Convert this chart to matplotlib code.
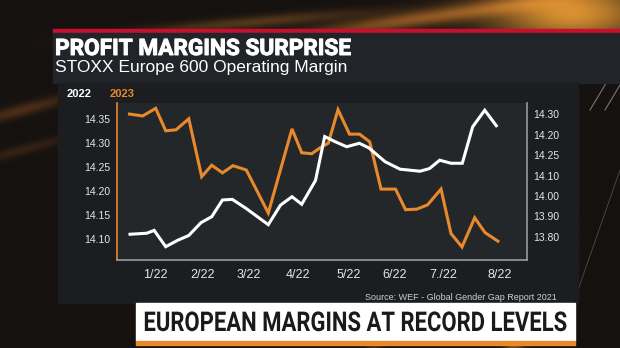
import numpy as np
import matplotlib
matplotlib.use("Agg")
import matplotlib.pyplot as plt
from matplotlib.patches import Rectangle
from matplotlib.patheffects import AbstractPathEffect, withStroke
from matplotlib.transforms import Affine2D

# ---------------- data (x in fractional months of 2022 axis) ----------------
x_2023 = [0.466, 0.735, 1.0, 1.204, 1.413, 1.674, 1.937, 2.141, 2.360, 2.574,
          2.845, 3.293, 3.776, 3.974, 4.177, 4.356, 4.515, 4.713, 4.947, 5.151,
          5.358, 5.589, 5.884, 6.088, 6.316, 6.536, 6.811, 7.014, 7.238, 7.497,
          7.707, 7.971]
v_2023 = [14.361, 14.357, 14.373, 14.326, 14.328, 14.351, 14.230, 14.254, 14.238, 14.253,
          14.244, 14.154, 14.330, 14.280, 14.278, 14.291, 14.300, 14.370, 14.319, 14.319,
          14.303, 14.204, 14.204, 14.161, 14.162, 14.171, 14.204, 14.111, 14.083, 14.144,
          14.113, 14.095]

x_2022 = [0.477, 0.817, 0.969, 1.204, 1.444, 1.674, 1.923, 2.141, 2.360, 2.560,
          2.839, 3.293, 3.542, 3.776, 3.974, 4.255, 4.442, 4.652, 4.890, 5.147,
          5.344, 5.670, 5.976, 6.383, 6.576, 6.784, 7.014, 7.244, 7.456, 7.701,
          7.937]
v_2022 = [13.812, 13.817, 13.831, 13.751, 13.782, 13.806, 13.869, 13.898, 13.980, 13.983,
          13.939, 13.859, 13.955, 13.996, 13.959, 14.076, 14.291, 14.266, 14.241, 14.258,
          14.235, 14.168, 14.131, 14.121, 14.134, 14.175, 14.160, 14.160, 14.339, 14.420,
          14.344]

month_ticks = [1.0, 1.949, 2.900, 3.892, 4.923, 5.874, 6.857, 7.998]
month_labels = ["1/22", "2/22", "3/22", "4/22", "5/22", "6/22", "7./22", "8/22"]
left_ticks = [14.35, 14.30, 14.25, 14.20, 14.15, 14.10]
left_labels = ["14.35", "14.30", "14.25", "14.20", "14.15", "14.10"]
right_ticks = [14.40, 14.30, 14.20, 14.10, 14.00, 13.90, 13.80]
right_labels = ["14.30", "14.20", "14.25", "14.10", "14.00", "13.90", "13.80"]

title = "PROFIT MARGINS SURPRISE"
subtitle = "STOXX Europe 600 Operating Margin"
source = "Source: WEF - Global Gender Gap Report 2021"
banner = "EUROPEAN MARGINS AT RECORD LEVELS"

ORANGE = "#e8892b"
GREY = "#9a9a9a"

W, H = 620, 348
fig = plt.figure(figsize=(W / 100, H / 100), dpi=100)


class Squeeze(AbstractPathEffect):
    """Horizontally condense text about a display x position."""

    def __init__(self, sx, cx):
        super().__init__()
        self.sx = sx
        self.cx = cx

    def draw_path(self, renderer, gc, tpath, affine, rgbFace=None):
        aff = affine + Affine2D().translate(-self.cx, 0).scale(self.sx, 1).translate(self.cx, 0)
        renderer.draw_path(gc, tpath, aff, rgbFace)


# ---------------- decorative background ----------------
bg = fig.add_axes([0, 0, 1, 1])
bg.set_xlim(0, W)
bg.set_ylim(H, 0)
bg.axis("off")
yy, xx = np.mgrid[0:H, 0:W].astype(float)
img = np.zeros((H, W, 3))
img[:] = np.array([0.085, 0.07, 0.06])


def glow(cx, cy, sx, sy, col, amp, ang=0.0):
    a = np.deg2rad(ang)
    dx, dy = xx - cx, yy - cy
    u = dx * np.cos(a) + dy * np.sin(a)
    v = -dx * np.sin(a) + dy * np.cos(a)
    g = np.exp(-(u / sx) ** 2 - (v / sy) ** 2)
    return amp * g[..., None] * np.array(col)[None, None, :]


img += glow(570, 12, 80, 30, (0.85, 0.55, 0.15), 0.9)
img += glow(420, 18, 120, 8, (0.75, 0.42, 0.12), 0.6, -8)
img += glow(250, 22, 120, 6, (0.6, 0.35, 0.12), 0.4, -5)
img += glow(20, 110, 60, 6, (0.6, 0.3, 0.1), 0.35, -15)
img += glow(20, 150, 60, 5, (0.5, 0.25, 0.1), 0.25, -15)
img += glow(520, 335, 60, 8, (0.8, 0.45, 0.12), 0.5, -60)
img += glow(380, 335, 60, 6, (0.6, 0.32, 0.1), 0.3, -60)
img = np.clip(img, 0, 1)
bg.imshow(img, extent=(0, W, H, 0), aspect="auto", zorder=0)
for x0 in (590, 605):
    bg.plot([x0, x0 + 30], [110, 60], color="#bbbbbb", lw=0.8, alpha=0.6, zorder=1)
bg.plot([578, 620], [290, 170], color="#888888", lw=0.6, alpha=0.5, zorder=1)

bg.add_patch(Rectangle((53, 29), W - 53, 3.5, color="#c8102e", zorder=2))
bg.add_patch(Rectangle((53, 32.5), W - 53, 50.5, color="#212428", zorder=2))
bg.add_patch(Rectangle((58, 83), 520, 220, color="#1b1d20", zorder=2))
bg.add_patch(Rectangle((136, 303), 439, 38, color="white", zorder=3))
bg.add_patch(Rectangle((136, 341), 439, 4, color=ORANGE, zorder=3))

bg.text(55, 55, title, fontsize=16.3, fontweight="bold", color="white",
        family=["Roboto", "DejaVu Sans"], va="baseline", ha="left", zorder=4,
        path_effects=[withStroke(linewidth=0.7, foreground="white")])
bg.text(55, 72, subtitle, fontsize=12.5, color="white",
        family=["Liberation Sans", "DejaVu Sans"], va="baseline", ha="left", zorder=4)
bg.text(67, 97, "2022", fontsize=8, fontweight="bold", color="white",
        family=["Liberation Sans", "DejaVu Sans"], va="baseline", ha="left", zorder=4)
bg.text(110, 97, "2023", fontsize=8, fontweight="bold", color=ORANGE,
        family=["Liberation Sans", "DejaVu Sans"], va="baseline", ha="left", zorder=4)
bg.text(557, 297.5, source, fontsize=6.5, color="#cfcfcf",
        family=["Liberation Sans", "DejaVu Sans"], va="center", ha="right", zorder=4)
bg.text(355.5, 331, banner, fontsize=19.6, fontweight="bold", color="#1a1a1a",
        family=["Roboto", "DejaVu Sans"], va="baseline", ha="center", zorder=4,
        path_effects=[Squeeze(0.81, 355.5)])

# ---------------- chart ----------------
ax = fig.add_axes([117 / W, 1 - 260 / H, 410 / W, 157 / H])
ax.set_facecolor("#24272a")
ax2 = ax.twinx()

ax.plot(x_2023, v_2023, color=ORANGE, lw=2.2, solid_joinstyle="miter", zorder=3)
ax2.plot(x_2022, v_2022, color="white", lw=2.2, solid_joinstyle="miter", zorder=3)

ax.set_xlim(0.212, 8.562)
ax.set_ylim(14.0557, 14.3841)
ax2.set_ylim(13.6858, 14.4554)

ax.set_xticks(month_ticks)
ax.set_xticklabels(month_labels)
ax.set_yticks(left_ticks)
ax.set_yticklabels(left_labels)
ax2.set_yticks(right_ticks)
ax2.set_yticklabels(right_labels)

tick_font = dict(family=["Liberation Sans", "DejaVu Sans"])
for lab in ax.get_xticklabels():
    lab.set_fontsize(9)
    lab.set(**tick_font)
for lab in ax.get_yticklabels() + ax2.get_yticklabels():
    lab.set_fontsize(7.5)
    lab.set(**tick_font)

ax.tick_params(axis="x", length=0, pad=6.5, colors="#e6e6e6")
ax.tick_params(axis="y", length=0, pad=5, colors="#e6e6e6")
ax2.tick_params(axis="y", length=0, pad=4.5, colors="#e6e6e6")

for s in ("top", "right"):
    ax.spines[s].set_visible(False)
for s in ("top", "left", "bottom"):
    ax2.spines[s].set_visible(False)
ax.spines["left"].set_color(ORANGE)
ax.spines["left"].set_linewidth(1.2)
ax.spines["bottom"].set_color(GREY)
ax.spines["bottom"].set_linewidth(1.2)
ax2.spines["right"].set_color(GREY)
ax2.spines["right"].set_linewidth(1.2)

fig.savefig("out.png", dpi=100)
